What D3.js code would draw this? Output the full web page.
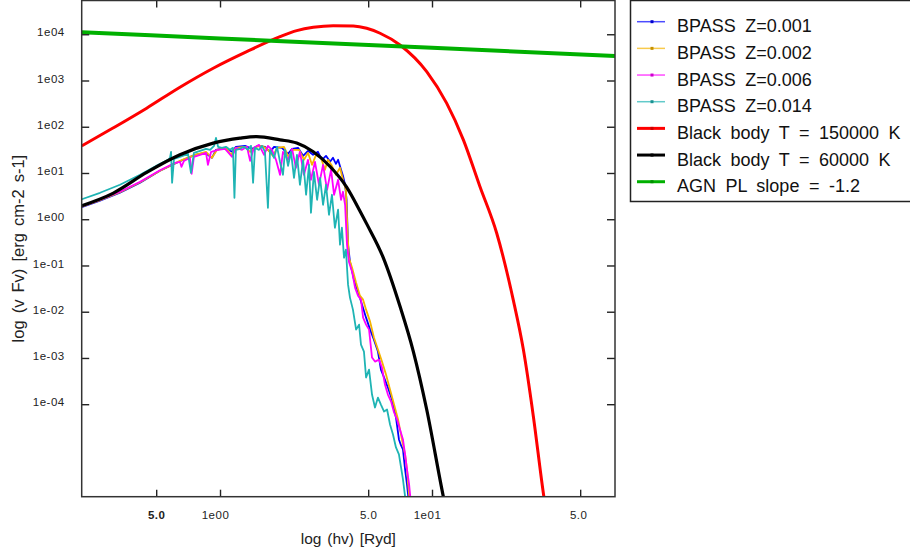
<!DOCTYPE html>
<html>
<head>
<meta charset="utf-8">
<script src="https://cdn.jsdelivr.net/npm/d3@7/dist/d3.min.js"></script>
<style>
  body { margin: 0; background: #fff; }
  svg { display: block; font-family: "Liberation Sans", Arial, sans-serif; }
</style>
</head>
<body>
<div id="chart"></div>
<script>
// every point is [log10(hv / Ryd), log10(vFv / erg cm-2 s-1)]
var bpassZ001 = [
  [-0.652, 0.259], [-0.566, 0.400], [-0.472, 0.572], [-0.377, 0.788], [-0.283, 1.048],
  [-0.189, 1.253], [-0.118, 1.393], [-0.071, 1.436], [-0.038, 1.328], [-0.019, 1.501],
  [0.024, 1.544], [0.057, 1.458], [0.075, 1.566], [0.118, 1.587], [0.151, 1.523],
  [0.179, 1.587], [0.212, 1.566], [0.236, 1.458], [0.255, 1.566], [0.292, 1.544],
  [0.321, 1.415], [0.340, 1.523], [0.368, 1.544], [0.392, 1.371], [0.415, 1.479],
  [0.439, 1.393], [0.462, 1.458], [0.481, 1.285], [0.500, 1.371], [0.519, 1.242],
  [0.533, 1.328], [0.547, 1.199], [0.557, 1.285], [0.571, 1.069], [0.580, 0.940],
  [0.590, 0.745], [0.597, 0.421], [0.604, -0.551], [0.613, -0.918], [0.632, -1.307],
  [0.651, -1.566], [0.670, -1.847], [0.689, -2.128], [0.708, -2.387], [0.726, -2.603],
  [0.745, -2.862], [0.759, -3.251], [0.774, -3.423], [0.792, -3.640], [0.811, -3.899],
  [0.830, -4.287], [0.844, -4.762], [0.854, -4.892], [0.863, -4.978], [0.873, -5.410],
  [0.882, -5.734], [0.892, -6.166]
];
var bpassZ002 = [
  [-0.652, 0.270], [-0.566, 0.410], [-0.472, 0.583], [-0.377, 0.799], [-0.283, 1.048],
  [-0.189, 1.263], [-0.118, 1.393], [-0.066, 1.458], [-0.038, 1.328], [-0.014, 1.501],
  [0.028, 1.544], [0.052, 1.393], [0.075, 1.544], [0.118, 1.566], [0.142, 1.458],
  [0.170, 1.566], [0.198, 1.587], [0.226, 1.501], [0.250, 1.371], [0.269, 1.544],
  [0.302, 1.566], [0.325, 1.328], [0.344, 1.501], [0.373, 1.501], [0.396, 1.285],
  [0.415, 1.436], [0.434, 1.177], [0.453, 1.393], [0.476, 1.328], [0.495, 1.069],
  [0.509, 1.285], [0.528, 1.156], [0.547, 0.961], [0.566, 1.112], [0.580, 0.853],
  [0.594, 0.637], [0.601, -0.227], [0.608, -0.832], [0.623, -1.048], [0.642, -1.371],
  [0.660, -1.652], [0.675, -1.739], [0.689, -1.955], [0.708, -2.214], [0.726, -2.559],
  [0.745, -2.819], [0.764, -3.078], [0.783, -3.359], [0.802, -3.683], [0.821, -4.007],
  [0.840, -4.330], [0.858, -4.762], [0.873, -5.086], [0.882, -5.410], [0.896, -6.166]
];
var bpassZ006 = [
  [-0.652, 0.281], [-0.566, 0.421], [-0.472, 0.594], [-0.377, 0.810], [-0.283, 1.058],
  [-0.212, 1.220], [-0.189, 1.242], [-0.182, 1.134], [-0.170, 1.263], [-0.142, 1.328],
  [-0.134, 0.983], [-0.123, 1.350], [-0.094, 1.393], [-0.066, 1.436], [-0.057, 1.177],
  [-0.042, 1.458], [-0.009, 1.501], [0.024, 1.523], [0.057, 1.350], [0.075, 1.544],
  [0.104, 1.501], [0.127, 1.566], [0.142, 1.263], [0.160, 1.544], [0.184, 1.609],
  [0.208, 1.393], [0.226, 1.587], [0.245, 1.501], [0.264, 1.285], [0.283, 0.961],
  [0.297, 1.458], [0.321, 1.285], [0.340, 1.523], [0.358, 1.112], [0.377, 1.458],
  [0.396, 0.961], [0.415, 1.285], [0.429, 0.853], [0.448, 1.242], [0.467, 0.745],
  [0.486, 1.177], [0.505, 0.637], [0.524, 1.069], [0.538, 0.529], [0.557, 0.853],
  [0.571, 0.421], [0.580, 0.594], [0.590, 0.313], [0.599, -0.551], [0.608, -0.918],
  [0.623, -1.134], [0.637, -1.479], [0.651, -1.652], [0.665, -1.739], [0.675, -2.128],
  [0.689, -2.279], [0.703, -2.387], [0.717, -2.991], [0.731, -3.078], [0.750, -3.035],
  [0.764, -3.207], [0.778, -3.575], [0.792, -3.791], [0.807, -3.942], [0.821, -4.179],
  [0.835, -4.330], [0.849, -4.546], [0.863, -4.762], [0.873, -5.086], [0.882, -5.410],
  [0.892, -5.734], [0.901, -6.166]
];
var bpassZ014 = [
  [-0.652, 0.432], [-0.566, 0.572], [-0.472, 0.745], [-0.377, 0.961], [-0.283, 1.199],
  [-0.245, 1.285], [-0.236, 1.328], [-0.231, 1.458], [-0.226, 0.788], [-0.217, 1.307],
  [-0.189, 1.350], [-0.151, 1.415], [-0.137, 1.004], [-0.123, 1.436], [-0.094, 1.479],
  [-0.066, 1.523], [-0.047, 1.501], [-0.028, 1.587], [-0.019, 1.760], [-0.009, 1.566],
  [0.009, 1.544], [0.028, 1.566], [0.047, 1.501], [0.061, 1.544], [0.068, 0.464],
  [0.075, 1.501], [0.094, 1.523], [0.113, 1.566], [0.132, 1.501], [0.146, 1.587],
  [0.156, 0.788], [0.165, 1.544], [0.184, 1.501], [0.198, 1.587], [0.212, 1.458],
  [0.226, 0.248], [0.236, 1.501], [0.255, 1.328], [0.269, 1.566], [0.283, 1.242],
  [0.297, 0.961], [0.307, 1.501], [0.321, 1.156], [0.335, 1.458], [0.349, 0.896],
  [0.363, 1.393], [0.377, 0.745], [0.392, 1.285], [0.406, 0.529], [0.420, 1.177],
  [0.429, 0.140], [0.443, 1.026], [0.458, 0.421], [0.472, 0.896], [0.486, 0.313],
  [0.500, 0.745], [0.514, 0.097], [0.528, 0.529], [0.542, -0.184], [0.557, 0.205],
  [0.566, -0.551], [0.575, -0.184], [0.585, -0.832], [0.594, -0.659], [0.604, -1.415],
  [0.613, -1.695], [0.627, -1.955], [0.642, -2.387], [0.656, -2.279], [0.665, -2.711],
  [0.679, -2.862], [0.689, -3.423], [0.703, -3.251], [0.717, -3.791], [0.731, -4.071],
  [0.745, -3.856], [0.759, -4.007], [0.774, -4.158], [0.788, -4.115], [0.802, -4.438],
  [0.816, -4.654], [0.830, -4.935], [0.844, -5.086], [0.854, -5.367], [0.863, -5.626],
  [0.873, -5.994], [0.877, -6.166]
];
var blackBody150k = [
  [-0.652, 1.587], [-0.505, 1.972], [-0.346, 2.402], [-0.189, 2.855], [-0.032, 3.266],
  [0.126, 3.624], [0.283, 3.948], [0.362, 4.078], [0.440, 4.151], [0.534, 4.186],
  [0.629, 4.179], [0.692, 4.129], [0.755, 4.022], [0.849, 3.769], [0.975, 3.192],
  [1.069, 2.510], [1.148, 1.717], [1.226, 0.708], [1.305, -0.298], [1.383, -1.739],
  [1.431, -2.819], [1.478, -4.259], [1.525, -5.914], [1.533, -6.166]
];
var blackBody60k = [
  [-0.652, 0.292], [-0.503, 0.566], [-0.346, 1.011], [-0.189, 1.393], [-0.032, 1.646],
  [0.094, 1.754], [0.173, 1.788], [0.283, 1.717], [0.362, 1.646], [0.440, 1.458],
  [0.519, 1.140], [0.598, 0.690], [0.660, 0.180], [0.692, -0.100], [0.770, -0.830],
  [0.849, -1.883], [0.912, -2.862], [0.975, -4.115], [1.053, -5.987], [1.061, -6.166]
];
var agnPowerLaw = [
  [-0.652, 4.043], [0.000, 3.910], [1.000, 3.706], [1.863, 3.531]
];

var seriesNames = ["BPASS Z=0.001", "BPASS Z=0.002", "BPASS Z=0.006", "BPASS Z=0.014",
  "Black body T = 150000 K", "Black body T = 60000 K", "AGN PL slope = -1.2"];
var seriesData = [bpassZ001, bpassZ002, bpassZ006, bpassZ014, blackBody150k, blackBody60k, agnPowerLaw];
var seriesColors = ["#0000ff", "#f5b400", "#ff00ff", "#1fb4b4", "#ff0000", "#000000", "#00b000"];
var seriesWidths = [1.8, 1.8, 1.8, 1.8, 3, 3.2, 4];

var xTickValues = [0.5, 1, 5, 10, 50];
var xTickLabels = ["5.0", "1e00", "5.0", "1e01", "5.0"];
var yTickValues = [1e4, 1e3, 1e2, 1e1, 1, 1e-1, 1e-2, 1e-3, 1e-4];
var yTickLabels = ["1e04", "1e03", "1e02", "1e01", "1e00", "1e-01", "1e-02", "1e-03", "1e-04"];

var width = 910, height = 556;
var plot = { left: 81.7, right: 615, top: 0.5, bottom: 496.7 };

var svg = d3.select("#chart").append("svg")
  .attr("width", width)
  .attr("height", height);

var x = d3.scaleLog().domain([0.2226, 72.99]).range([plot.left, plot.right]);
var y = d3.scaleLog().domain([1e-6, 5.37e4]).range([plot.bottom, plot.top]);

svg.append("clipPath").attr("id", "plotClip")
  .append("rect")
  .attr("x", plot.left).attr("y", plot.top)
  .attr("width", plot.right - plot.left).attr("height", plot.bottom - plot.top);

// curves
var rough = d3.line()
  .x(function (d) { return x(Math.pow(10, d[0])); })
  .y(function (d) { return y(Math.pow(10, d[1])); });
var smooth = d3.line()
  .x(function (d) { return x(Math.pow(10, d[0])); })
  .y(function (d) { return y(Math.pow(10, d[1])); })
  .curve(d3.curveMonotoneX);

var lines = svg.append("g").attr("clip-path", "url(#plotClip)");
seriesData.forEach(function (data, i) {
  lines.append("path")
    .datum(data)
    .attr("fill", "none")
    .attr("stroke", seriesColors[i])
    .attr("stroke-width", seriesWidths[i])
    .attr("stroke-linejoin", "round")
    .attr("d", i < 4 ? rough : smooth);
});

// axes, ticks point inward on all four sides
var labelFor = function (list, labels) {
  return function (d) { return labels[list.indexOf(d)]; };
};

var bottomAxis = svg.append("g")
  .attr("transform", "translate(0," + plot.bottom + ")")
  .call(d3.axisBottom(x).tickValues(xTickValues).tickFormat(labelFor(xTickValues, xTickLabels))
    .tickSize(-7).tickPadding(14));
var leftAxis = svg.append("g")
  .attr("transform", "translate(" + plot.left + ",0)")
  .call(d3.axisLeft(y).tickValues(yTickValues).tickFormat(labelFor(yTickValues, yTickLabels))
    .tickSize(-7.5).tickPadding(17));
svg.append("g")
  .attr("transform", "translate(0," + plot.top + ")")
  .call(d3.axisTop(x).tickValues(xTickValues).tickFormat("").tickSize(-7));
svg.append("g")
  .attr("transform", "translate(" + plot.right + ",0)")
  .call(d3.axisRight(y).tickValues(yTickValues).tickFormat("").tickSize(-8));

svg.selectAll(".domain").remove();
svg.selectAll(".tick line").attr("stroke", "#222").attr("stroke-width", 1.4);
svg.selectAll(".tick text")
  .attr("fill", "#222")
  .style("font-size", "11.5px")
  .style("letter-spacing", "0.5px")
  .style("font-family", "'Liberation Sans', Arial, sans-serif");
leftAxis.selectAll(".tick text").attr("dy", "0.14em");
bottomAxis.selectAll(".tick text")
  .attr("dx", function (d) { return d === 1 || d === 10 ? -5 : (d === 50 ? -2 : 0); })
  .style("font-weight", function (d) { return d === 0.5 ? "bold" : "normal"; });

svg.append("rect")
  .attr("x", plot.left).attr("y", plot.top)
  .attr("width", plot.right - plot.left).attr("height", plot.bottom - plot.top)
  .attr("fill", "none")
  .attr("stroke", "#333")
  .attr("stroke-width", 1.5);

// axis titles
svg.append("text")
  .attr("x", (plot.left + plot.right) / 2)
  .attr("y", 544)
  .attr("text-anchor", "middle")
  .style("font-size", "15.5px")
  .style("word-spacing", "1.5px")
  .attr("fill", "#222")
  .text("log (hv) [Ryd]");
svg.append("text")
  .attr("transform", "translate(24," + (plot.top + plot.bottom) / 2 + ") rotate(-90)")
  .attr("text-anchor", "middle")
  .style("font-size", "16.5px")
  .style("word-spacing", "2.5px")
  .attr("fill", "#222")
  .text("log (v Fv) [erg cm-2 s-1]");

// legend
var legend = svg.append("g");
legend.append("rect")
  .attr("x", 630.5).attr("y", 0.5)
  .attr("width", 320).attr("height", 201)
  .attr("fill", "#fff")
  .attr("stroke", "#222")
  .attr("stroke-width", 1.5);

var legendRow = legend.selectAll(".entry")
  .data(seriesNames)
  .enter()
  .append("g")
  .attr("class", "entry")
  .attr("transform", function (d, i) { return "translate(0," + (21.7 + i * 26.67) + ")"; });

legendRow.append("line")
  .attr("x1", 637).attr("x2", 665)
  .attr("stroke", function (d, i) { return seriesColors[i]; })
  .attr("stroke-opacity", function (d, i) { return i < 4 ? 0.7 : 1; })
  .attr("stroke-width", function (d, i) { return i < 4 ? 1.5 : 3; });
legendRow.append("rect")
  .attr("x", 650.5).attr("y", -1.5)
  .attr("width", 3).attr("height", 3)
  .attr("fill", function (d, i) { return i === 5 ? "#000" : d3.color(seriesColors[i]).darker(0.6); });
legendRow.append("text")
  .attr("x", 677)
  .attr("y", 10.6)
  .style("font-size", "18px")
  .style("word-spacing", "4.5px")
  .attr("fill", "#111")
  .text(function (d) { return d; });
</script>
</body>
</html>
